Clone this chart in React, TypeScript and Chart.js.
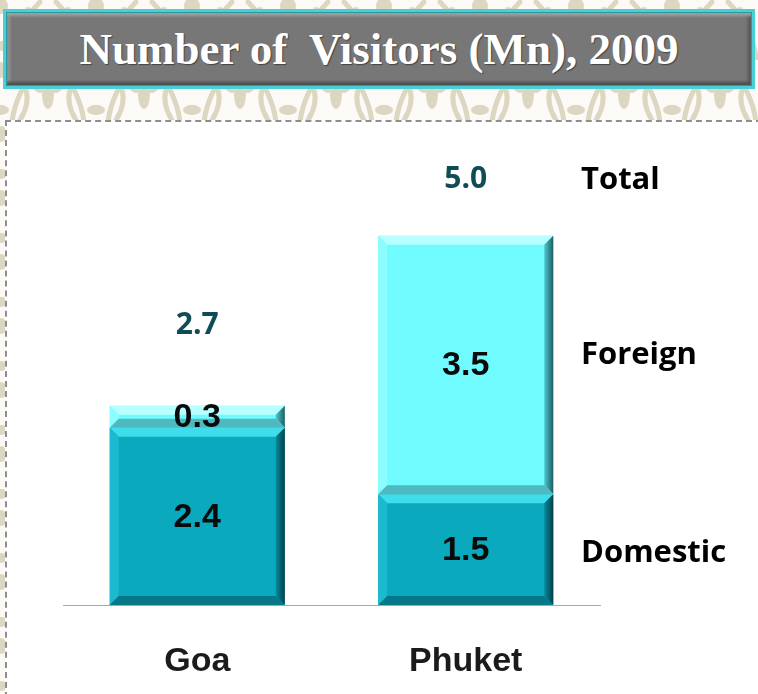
import React, { useEffect, useRef } from "react";
import { Chart, registerables } from "chart.js";

Chart.register(...registerables);

// ---- data ----
const categories = ["Goa", "Phuket"];
const domesticValues = [2.4, 1.5];
const foreignValues = [0.3, 3.5];
const totalValues = [2.7, 5.0];
const seriesLabels = ["Domestic", "Foreign"];
const totalLabel = "Total";
const titleText = "Number of  Visitors (Mn), 2009";
const yMax = 6;

// ---- styles ----
const palettes = [
  { fill: "#0aa9be", top: "#3fdcec", left: "#1cbad0", right1: "#078a9b", right2: "#033f48", bottom: "#06788a" },
  { fill: "#6ffbff", top: "#b8ffff", left: "#8cfdff", right1: "#4cc9d0", right2: "#1f5c63", bottom: "#4fb9c0" },
];
const totalLift = [80, 56];

function poly(ctx: CanvasRenderingContext2D, pts: number[][], fill: any) {
  ctx.beginPath();
  ctx.moveTo(pts[0][0], pts[0][1]);
  for (let i = 1; i < pts.length; i++) ctx.lineTo(pts[i][0], pts[i][1]);
  ctx.closePath();
  ctx.fillStyle = fill;
  ctx.fill();
}

const bevelPlugin = {
  id: "bevelLabels",
  afterDatasetsDraw(chart: any) {
    const ctx: CanvasRenderingContext2D = chart.ctx;
    const yScale = chart.scales.y;
    ctx.save();
    chart.data.datasets.forEach((ds: any, di: number) => {
      const meta = chart.getDatasetMeta(di);
      const pal = palettes[di];
      meta.data.forEach((bar: any) => {
        const p = bar.getProps(["x", "y", "base", "width"], true);
        const l = p.x - p.width / 2;
        const r = p.x + p.width / 2;
        const t = Math.min(p.y, p.base);
        const bt = Math.max(p.y, p.base);
        const h = bt - t;
        const b = Math.min(9, h / 2);
        poly(ctx, [[l, t], [r, t], [r - b, t + b], [l + b, t + b]], pal.top);
        poly(ctx, [[l, t], [l + b, t + b], [l + b, bt - b], [l, bt]], pal.left);
        const g = ctx.createLinearGradient(r - b, 0, r, 0);
        g.addColorStop(0, pal.right1);
        g.addColorStop(1, pal.right2);
        poly(ctx, [[r, t], [r, bt], [r - b, bt - b], [r - b, t + b]], g);
        poly(ctx, [[l, bt], [r, bt], [r - b, bt - b], [l + b, bt - b]], pal.bottom);
      });
    });
    // values inside bars
    ctx.textAlign = "center";
    ctx.textBaseline = "middle";
    ctx.fillStyle = "#0a0a0a";
    ctx.font = "bold 34px 'Liberation Sans', Arial, sans-serif";
    chart.data.datasets.forEach((ds: any, di: number) => {
      const meta = chart.getDatasetMeta(di);
      meta.data.forEach((bar: any, i: number) => {
        const p = bar.getProps(["x", "y", "base"], true);
        ctx.fillText(ds.data[i].toFixed(1), p.x, (p.y + p.base) / 2 + 1);
      });
    });
    // totals
    ctx.fillStyle = "#0f4d56";
    ctx.font = "bold 30px 'Open Sans', Lato, sans-serif";
    const meta0 = chart.getDatasetMeta(0);
    let lastTotalY = 0;
    totalValues.forEach((v, i) => {
      const x = meta0.data[i].x;
      const y = yScale.getPixelForValue(v) - totalLift[i];
      lastTotalY = y;
      ctx.fillText(v.toFixed(1), x, y);
    });
    // right-side series labels aligned to last bar's segments
    ctx.fillStyle = "#000000";
    ctx.textAlign = "left";
    ctx.font = "bold 31px 'Open Sans', Lato, sans-serif";
    const lx = chart.chartArea.right - 19;
    const last = categories.length - 1;
    chart.data.datasets.forEach((ds: any, di: number) => {
      const bar = chart.getDatasetMeta(di).data[last];
      const p = bar.getProps(["y", "base"], true);
      ctx.fillText(seriesLabels[di], lx, (p.y + p.base) / 2 + (di === 1 ? -10 : 4));
    });
    ctx.fillText(totalLabel, lx, lastTotalY);
    ctx.restore();
  },
};

const tileSvg =
  "<svg xmlns='http://www.w3.org/2000/svg' width='96' height='64'>" +
  "<g fill='#ddd6c1' stroke='none'>" +
  "<ellipse cx='48' cy='34' rx='6' ry='15'/>" +
  "<ellipse cx='34' cy='22' rx='5' ry='13' transform='rotate(-35 34 22)'/>" +
  "<ellipse cx='62' cy='22' rx='5' ry='13' transform='rotate(35 62 22)'/>" +
  "<circle cx='0' cy='10' r='8'/><circle cx='96' cy='10' r='8'/>" +
  "<ellipse cx='0' cy='50' rx='9' ry='5'/><ellipse cx='96' cy='50' rx='9' ry='5'/>" +
  "</g>" +
  "<g fill='none' stroke='#ddd6c1' stroke-width='5' stroke-linecap='round'>" +
  "<path d='M12 62 Q16 30 40 6'/><path d='M84 62 Q80 30 56 6'/>" +
  "<path d='M20 60 Q30 44 26 30'/><path d='M76 60 Q66 44 70 30'/>" +
  "</g></svg>";

const bgPattern: React.CSSProperties = {
  backgroundColor: "#fbfaf6",
  backgroundImage: `url("data:image/svg+xml;utf8,${encodeURIComponent(tileSvg)}")`,
  backgroundSize: "96px 64px",
  backgroundPosition: "0px 60px",
};

export default function App() {
  const ref = useRef<HTMLCanvasElement | null>(null);
  useEffect(() => {
    if (!ref.current) return;
    const chart = new Chart(ref.current, {
      type: "bar",
      data: {
        labels: categories,
        datasets: [
          { label: seriesLabels[0], data: domesticValues, backgroundColor: palettes[0].fill, borderWidth: 0 },
          { label: seriesLabels[1], data: foreignValues, backgroundColor: palettes[1].fill, borderWidth: 0 },
        ],
      },
      options: {
        responsive: false,
        animation: false,
        layout: { padding: { left: 63, right: 158, top: 162, bottom: 0 } },
        datasets: { bar: { barPercentage: 1, categoryPercentage: 0.652 } },
        plugins: { legend: { display: false }, tooltip: { enabled: false }, title: { display: false } },
        scales: {
          x: {
            stacked: true,
            grid: { display: false, drawTicks: false },
            border: { display: true, color: "#a8a8a8", width: 1 },
            afterFit: (scale: any) => {
              scale.height = 89;
            },
            ticks: {
              color: "#1b1b1b",
              padding: 36,
              font: { family: "'Liberation Sans', Arial, sans-serif", size: 34, weight: "bold" },
            },
          },
          y: { stacked: true, display: false, min: 0, max: yMax },
        },
      },
      plugins: [bevelPlugin],
    });
    return () => chart.destroy();
  }, []);

  return (
    <div style={{ position: "fixed", left: 0, top: 0, width: 758, height: 694, overflow: "hidden", ...bgPattern }}>
      <div
        style={{
          position: "absolute",
          left: 5,
          top: 120,
          right: -4,
          bottom: -4,
          background: "#ffffff",
          borderTop: "2px dashed #8e8e8e",
          borderLeft: "2px dashed #8e8e8e",
        }}
      />
      <div
        style={{
          position: "absolute",
          left: 3,
          top: 9,
          width: 746,
          height: 74,
          border: "3px solid #48d0d6",
          boxShadow:
            "inset 0 0 0 1px #2a9aa0, inset 0 4px 3px #a0a0a0, inset 0 -4px 3px #4e4e4e, inset 4px 0 3px #939393, inset -4px 0 3px #555",
          background: "#777777",
          display: "flex",
          alignItems: "center",
          justifyContent: "center",
          color: "#ffffff",
          fontFamily: "'Liberation Serif', 'DejaVu Serif', serif",
          fontWeight: "bold",
          fontSize: 45,
          whiteSpace: "pre",
          textShadow: "1px 1px 1px #444",
        }}
      >
        {titleText}
      </div>
      <canvas ref={ref} width={758} height={694} style={{ position: "absolute", left: 0, top: 0 }} />
    </div>
  );
}
